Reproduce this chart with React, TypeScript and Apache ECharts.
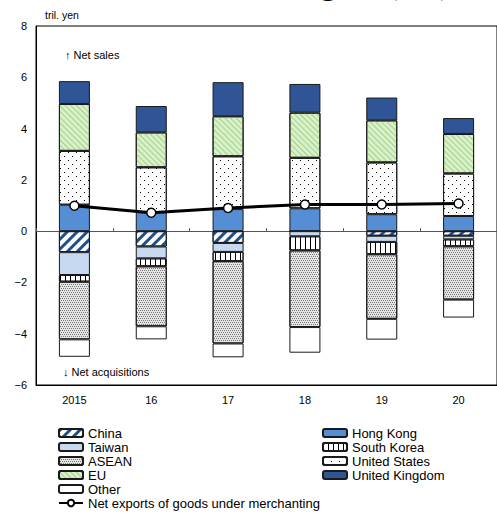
import React, { useEffect, useRef } from 'react';
import * as echarts from 'echarts';

const categories = ['2015', '16', '17', '18', '19', '20'];
const hongKong = [1.03, 0.74, 0.86, 0.89, 0.66, 0.59];
const unitedStates = [2.1, 1.75, 2.06, 1.97, 2.02, 1.66];
const eu = [1.83, 1.36, 1.56, 1.76, 1.64, 1.54];
const unitedKingdom = [0.89, 1.03, 1.33, 1.12, 0.89, 0.62];
const china = [-0.82, -0.6, -0.46, 0, -0.18, -0.18];
const taiwan = [-0.89, -0.46, -0.35, -0.2, -0.24, -0.14];
const southKorea = [-0.26, -0.31, -0.36, -0.55, -0.48, -0.27];
const asean = [-2.25, -2.34, -3.21, -2.99, -2.52, -2.08];
const other = [-0.68, -0.51, -0.54, -1.0, -0.81, -0.7];
const netExports = [0.99, 0.72, 0.9, 1.04, 1.04, 1.08];
const yTicks = { min: -6, max: 8, interval: 2 };

const FONT = '"Liberation Sans", Arial, sans-serif';
const NET = 'Net exports of goods under merchanting';

function bar(name: string, data: number[], color: string, decal?: any) {
  return {
    name,
    type: 'bar',
    stack: 'total',
    data,
    barWidth: 31,
    itemStyle: { color, borderColor: '#1a1a1a', borderWidth: 1, decal },
  };
}

export default function App() {
  const ref = useRef<HTMLDivElement>(null);
  useEffect(() => {
    const chart = echarts.init(ref.current!, null, { renderer: 'svg' });
    const legendText = { fontSize: 13, lineHeight: 14, color: '#000', fontFamily: FONT };
    const option: any = {
      animation: false,
      backgroundColor: '#fff',
      grid: {
        left: 36,
        top: 26,
        width: 465,
        height: 359,
        show: true,
        borderColor: '#000',
        borderWidth: 1,
      },
      xAxis: [
        {
          type: 'category',
          data: categories,
          position: 'bottom',
          axisLine: { onZero: false, lineStyle: { color: '#000', width: 1 } },
          axisTick: { show: false },
          axisLabel: { color: '#000', fontSize: 11, fontFamily: FONT, margin: 9 },
        },
        {
          type: 'category',
          data: categories,
          position: 'top',
          axisLine: { onZero: true, lineStyle: { color: '#555', width: 1 } },
          axisTick: { show: true, inside: false, length: 3, lineStyle: { color: '#555' } },
          axisLabel: { show: false },
        },
      ],
      yAxis: {
        type: 'value',
        min: yTicks.min,
        max: yTicks.max,
        interval: yTicks.interval,
        axisLine: { show: true, lineStyle: { color: '#000' } },
        axisTick: { show: false },
        splitLine: { show: false },
        axisLabel: {
          color: '#000',
          fontSize: 11,
          fontFamily: FONT,
          margin: 9,
          formatter: (v: number) => String(v).replace('-', '\u2212'),
        },
      },
      legend: [
        {
          orient: 'vertical',
          left: 58,
          top: 426,
          padding: 0,
          itemWidth: 24,
          itemHeight: 8,
          itemGap: 0,
          selectedMode: false,
          data: ['China', 'Taiwan', 'ASEAN', 'EU', 'Other', NET],
          textStyle: legendText,
        },
        {
          orient: 'vertical',
          left: 322,
          top: 426,
          padding: 0,
          itemWidth: 24,
          itemHeight: 8,
          itemGap: 0,
          selectedMode: false,
          data: ['Hong Kong', 'South Korea', 'United States', 'United Kingdom'],
          textStyle: legendText,
        },
      ],
      graphic: [
        {
          type: 'text',
          x: 451,
          y: -17,
          silent: true,
          style: {
            text: 'Region (net)',
            font: 'bold 32px "Liberation Serif", serif',
            fill: '#000',
            align: 'right',
            verticalAlign: 'middle',
          },
        },
        {
          type: 'text',
          x: 45,
          y: 15,
          style: { text: 'tril. yen', font: '10.5px ' + FONT, fill: '#000', verticalAlign: 'middle' },
        },
        {
          type: 'text',
          x: 65,
          y: 55,
          style: { text: '\u2191 Net sales', font: '11px ' + FONT, fill: '#000', verticalAlign: 'middle' },
        },
        {
          type: 'text',
          x: 63,
          y: 372,
          style: { text: '\u2193 Net acquisitions', font: '11px ' + FONT, fill: '#000', verticalAlign: 'middle' },
        },
      ],
      series: [
        bar('China', china, '#ffffff', {
          symbol: 'rect',
          color: '#1F4E8C',
          dashArrayX: [1, 0],
          dashArrayY: [3, 4],
          rotation: -Math.PI / 4,
        }),
        bar('Taiwan', taiwan, '#C6D9F1'),
        bar('South Korea', southKorea, '#ffffff', {
          symbol: 'rect',
          color: '#000',
          dashArrayX: [1, 4],
          dashArrayY: [10, 0],
        }),
        bar('ASEAN', asean, '#e4e4e4', {
          symbol: 'rect',
          color: '#7a7a7a',
          dashArrayX: [[1, 1], [0, 1, 1, 0]],
          dashArrayY: [1, 1],
        }),
        bar('Other', other, '#ffffff'),
        bar('Hong Kong', hongKong, '#558ED5'),
        bar('United States', unitedStates, '#ffffff', {
          symbol: 'rect',
          color: '#000',
          dashArrayX: [[1, 7], [0, 4, 1, 3]],
          dashArrayY: [1, 3],
        }),
        bar('EU', eu, '#D8F1C8', {
          symbol: 'rect',
          color: '#A5CF8C',
          dashArrayX: [1, 0],
          dashArrayY: [1, 3],
          rotation: Math.PI / 4,
        }),
        bar('United Kingdom', unitedKingdom, '#2F5597'),
        {
          name: NET,
          type: 'line',
          data: netExports,
          symbol: 'circle',
          symbolSize: 9,
          z: 10,
          lineStyle: { color: '#000', width: 3 },
          itemStyle: { color: '#fff', borderColor: '#000', borderWidth: 1.5 },
        },
      ],
    };
    chart.setOption(option);
    return () => chart.dispose();
  }, []);
  return <div ref={ref} style={{ position: 'absolute', left: 0, top: 0, width: 497, height: 513 }} />;
}
